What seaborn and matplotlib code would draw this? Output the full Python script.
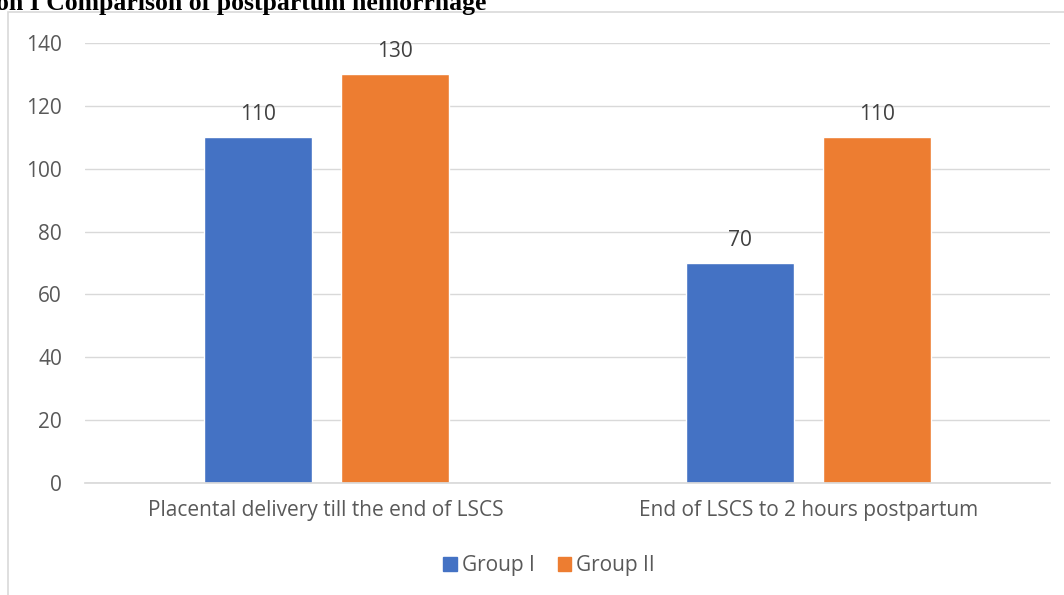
import pandas as pd
import matplotlib.pyplot as plt
import seaborn as sns
from matplotlib.patches import Rectangle

categories = ["Placental delivery till the end of LSCS", "End of LSCS to 2 hours postpartum"]
groups = ["Group I", "Group II"]
group1_values = [110, 70]
group2_values = [130, 110]
colors = ["#4472C4", "#ED7D31"]

df = pd.DataFrame({
    "Category": categories * 2,
    "Group": [groups[0]] * 2 + [groups[1]] * 2,
    "Value": group1_values + group2_values,
})

sns.set_theme(style="white")
plt.rcParams["font.family"] = ["Open Sans", "DejaVu Sans"]

fig = plt.figure(figsize=(10.64, 5.95), dpi=100)
ax = fig.add_axes([85 / 1064, 1 - 483 / 595, 965 / 1064, 440 / 595])

sns.barplot(data=df, x="Category", y="Value", hue="Group", palette=colors,
            saturation=1, width=0.568, gap=0.21, ax=ax, legend=False)

ax.set_ylim(0, 140)
ax.set_yticks(range(0, 141, 20))
ax.yaxis.grid(True, color="#D9D9D9", linewidth=1)
ax.set_axisbelow(True)
for s in ["left", "right", "top"]:
    ax.spines[s].set_visible(False)
ax.spines["bottom"].set_color("#D9D9D9")
ax.tick_params(axis="y", length=0, pad=16.5, labelsize=15, labelcolor="#595959")
ax.tick_params(axis="x", length=0, pad=12, labelsize=15, labelcolor="#595959")
ax.set_xlabel("")
ax.set_ylabel("")

for cont in ax.containers:
    ax.bar_label(cont, fmt="%d", padding=9, fontsize=15, color="#404040")

# legend
handles = [Rectangle((0, 0), 1, 1, color=c) for c in colors]
fig.legend(handles, groups, loc="center", bbox_to_anchor=(549 / 1064, 1 - 566 / 595),
           ncol=2, frameon=False, fontsize=15, handlelength=0.65, handleheight=0.65,
           handletextpad=0.25, columnspacing=1.1, labelcolor="#595959")

# chart border
fig.patches.append(Rectangle((8 / 1064, -0.05), 1.1, 1 - 12 / 595 + 0.05,
                             transform=fig.transFigure, fill=False,
                             edgecolor="#D9D9D9", linewidth=1.2))

# title (cut off at the top-left edge as in the source)
fig.text(-4 / 1064, 1 - 10 / 595, "on I Comparison of postpartum hemorrhage",
         fontsize=18.5, fontweight="bold", family=["Liberation Serif"],
         ha="left", va="baseline", color="black")

fig.savefig("out.png", dpi=100)
